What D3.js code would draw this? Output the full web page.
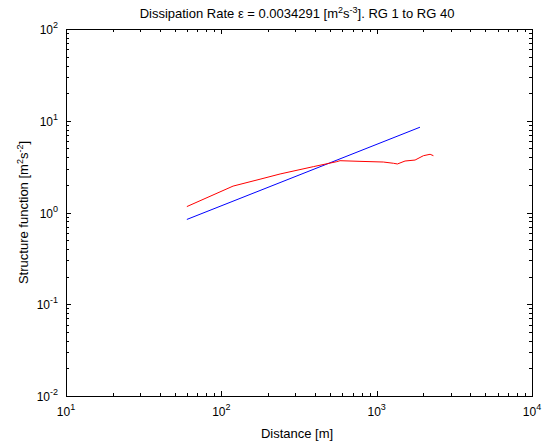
<!DOCTYPE html>
<html><head><meta charset="utf-8">
<script src="https://cdn.jsdelivr.net/npm/d3@7"></script>
<style>
body{margin:0;background:#fff;}
svg text{font-family:"Liberation Sans",Arial,sans-serif;fill:#000;}
</style></head>
<body><svg id="c" width="546" height="443"></svg>
<script>
const xDomain = [10, 10000];
const yDomain = [0.01, 100];
const xMajorExp = [1, 2, 3, 4];
const yMajorExp = [-2, -1, 0, 1, 2];
const redDist = [60, 119, 180, 239, 391, 553, 581, 781, 1104, 1282, 1360, 1523, 1767, 2000, 2208, 2319];
const redVal  = [1.16, 1.94, 2.32, 2.63, 3.16, 3.58, 3.67, 3.61, 3.55, 3.44, 3.38, 3.64, 3.73, 4.16, 4.31, 4.16];
const blueDist = [60, 1900];
const blueVal  = [0.84, 8.5];
const titleMain = "Dissipation Rate \u03b5 = 0.0034291 [m";
const xLabel = "Distance [m]";

const svg = d3.select("#c");
const L = 66, R = 532, T = 29, B = 396;
const x = d3.scaleLog().domain(xDomain).range([L, R]);
const y = d3.scaleLog().domain(yDomain).range([B, T]);

const minor = (dom) => {
  const out = [];
  for (let e = Math.log10(dom[0]); e < Math.log10(dom[1]); e++)
    for (let m = 2; m <= 9; m++) out.push(m * Math.pow(10, e));
  return out;
};
const g = svg.append("g").attr("stroke", "#000").attr("stroke-width", 1).attr("shape-rendering", "crispEdges");
g.append("rect").attr("x", L).attr("y", T).attr("width", R - L).attr("height", B - T).attr("fill", "none");
const xMaj = xMajorExp.map(e => Math.pow(10, e)), yMaj = yMajorExp.map(e => Math.pow(10, e));
function xt(vals, len) {
  vals.forEach(v => {
    const px = Math.round(x(v)) + 0.5;
    g.append("line").attr("x1", px).attr("x2", px).attr("y1", B).attr("y2", B - len);
    g.append("line").attr("x1", px).attr("x2", px).attr("y1", T).attr("y2", T + len);
  });
}
function yt(vals, len) {
  vals.forEach(v => {
    const py = Math.round(y(v)) + 0.5;
    g.append("line").attr("y1", py).attr("y2", py).attr("x1", L).attr("x2", L + len);
    g.append("line").attr("y1", py).attr("y2", py).attr("x1", R).attr("x2", R - len);
  });
}
xt(minor(xDomain), 3); xt(xMaj, 5);
yt(minor(yDomain), 3); yt(yMaj, 5);

const fs = 12, lfs = 13, sup = 9;
xMajorExp.forEach(e => {
  const t = svg.append("text").attr("x", x(Math.pow(10, e))).attr("y", 416).attr("text-anchor", "middle").attr("font-size", fs);
  t.append("tspan").text("10");
  t.append("tspan").attr("dy", -6).attr("font-size", sup).text(e);
});
yMajorExp.forEach(e => {
  const t = svg.append("text").attr("x", 58).attr("y", y(Math.pow(10, e)) + 5).attr("text-anchor", "end").attr("font-size", fs);
  t.append("tspan").text("10");
  t.append("tspan").attr("dy", -6).attr("font-size", sup).text(e);
});

const title = svg.append("text").attr("x", 297).attr("y", 18).attr("text-anchor", "middle").attr("font-size", lfs);
title.append("tspan").text(titleMain);
title.append("tspan").attr("dy", -5).attr("font-size", sup).text("2");
title.append("tspan").attr("dy", 5).text("s");
title.append("tspan").attr("dy", -5).attr("font-size", sup).text("-3");
title.append("tspan").attr("dy", 5).text("]. RG 1 to RG 40");

svg.append("text").attr("x", 297).attr("y", 438).attr("text-anchor", "middle").attr("font-size", lfs).text(xLabel);

const yl = svg.append("text").attr("transform", `translate(28,${(T + B) / 2}) rotate(-90)`).attr("text-anchor", "middle").attr("font-size", lfs);
yl.append("tspan").text("Structure function [m");
yl.append("tspan").attr("dy", -5).attr("font-size", sup).text("2");
yl.append("tspan").attr("dy", 5).text("s");
yl.append("tspan").attr("dy", -5).attr("font-size", sup).text("-2");
yl.append("tspan").attr("dy", 5).text("]");

const line = d3.line().x(d => x(d[0])).y(d => y(d[1]));
svg.append("path").datum(d3.zip(blueDist, blueVal)).attr("d", line).attr("fill", "none").attr("stroke", "#0000ff").attr("stroke-width", 1);
svg.append("path").datum(d3.zip(redDist, redVal)).attr("d", line).attr("fill", "none").attr("stroke", "#ff0000").attr("stroke-width", 1);
</script></body></html>
